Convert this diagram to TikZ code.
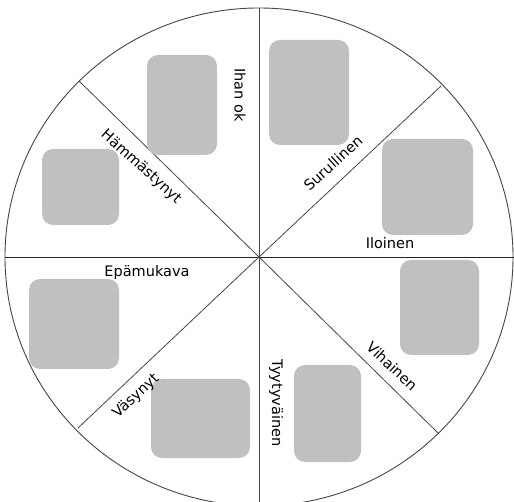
\documentclass[tikz,border=0pt]{standalone}
\usepackage{fontspec}
\setmainfont{DejaVu Sans}
\definecolor{boxgray}{RGB}{192,192,192}
\definecolor{linegray}{RGB}{70,70,70}
\begin{document}
\begin{tikzpicture}[x=1pt,y=-1pt,
  picbox/.style={fill=boxgray,draw=none,rounded corners=11pt},
  lbl/.style={font=\fontsize{14.5}{16}\selectfont,inner sep=0pt},
  spoke/.style={draw=linegray,line width=0.8pt}]
\useasboundingbox (0,0) rectangle (514,502);
\clip (0,0) rectangle (514,502);
\fill[white] (0,0) rectangle (514,502);
% centre and rim points
\coordinate (c) at (259,257);
\coordinate (top) at (259,8);
\coordinate (bot) at (259,506);
\coordinate (lft) at (5,257);
\coordinate (rgt) at (514,257);
\coordinate (ul) at (79,81);
\coordinate (ur) at (441,86);
\coordinate (lr) at (438,433);
\coordinate (ll) at (78,428);
% rim
\draw[draw=linegray,line width=0.9pt] (c) ellipse [x radius=254pt, y radius=249pt];
% spokes
\draw[spoke] (c) -- (top);
\draw[spoke] (c) -- (bot);
\draw[spoke,draw=black!85] (c) -- (lft);
\draw[spoke,draw=black!85] (c) -- (rgt);
\draw[spoke] (c) -- (ul);
\draw[spoke] (c) -- (ur);
\draw[spoke] (c) -- (lr);
\draw[spoke] (c) -- (ll);
% picture boxes
\fill[picbox] (147,55) rectangle (217,155);
\fill[picbox] (269,40) rectangle (349,145);
\fill[picbox] (382,139) rectangle (473,235);
\fill[picbox] (42,149) rectangle (119,225);
\fill[picbox] (29,279) rectangle (119,369);
\fill[picbox] (400,260) rectangle (479,355);
\fill[picbox] (151,379) rectangle (250,458);
\fill[picbox] (294,365) rectangle (361,462);
% labels
\node[lbl,rotate=-90] (ihan) at (240,95) {Ihan ok};
\node[lbl,rotate=-42] (hamm) at (141,167) {Hämmästynyt};
\node[lbl,rotate=42] (suru) at (333,163) {Surullinen};
\node[lbl] (ilo) at (390,243) {Iloinen};
\node[lbl] (epa) at (147,273) {Epämukava};
\node[lbl,rotate=43] (vasy) at (136,396) {Väsynyt};
\node[lbl,rotate=-90] (tyyt) at (276,403) {Tyytyväinen};
\node[lbl,rotate=-43] (viha) at (392,366) {Vihainen};
\end{tikzpicture}
\end{document}
